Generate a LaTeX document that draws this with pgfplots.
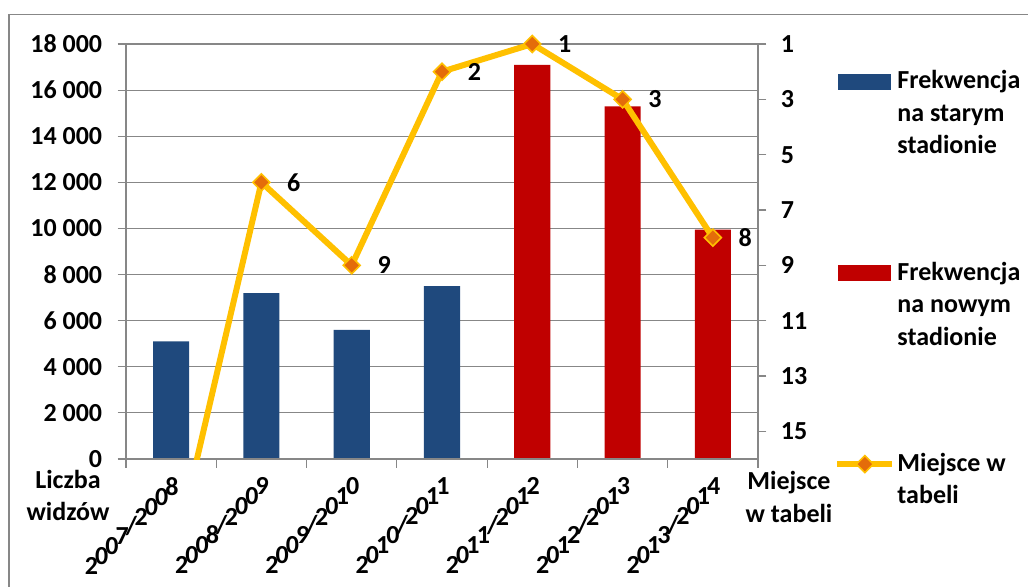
\documentclass[border=0pt]{standalone}
\usepackage{pgfplots}
\pgfplotsset{compat=1.18}
\usepackage{fontspec}
\setmainfont{Carlito}

\definecolor{barblue}{HTML}{1F497D}
\definecolor{barred}{HTML}{C00000}
\definecolor{lineyellow}{HTML}{FFC000}
\definecolor{markorange}{HTML}{E46C0A}
\definecolor{gridgray}{HTML}{878787}

\newcommand{\lbl}{\bfseries\fontsize{13}{16.25}\selectfont}

% season names set along a 45 degree diagonal, one character after another
\newdimen\diagy
\newdimen\diagw
\protected\def\diag#1{\diagy=0pt\diagi#1\relax}
\def\diagi#1{\ifx\relax#1\else\diagchar{#1}\expandafter\diagi\fi}
\def\diagchar#1{\setbox0=\hbox{#1}\diagw=\wd0
  \raisebox{\diagy}{\box0}\kern-0.22\diagw\advance\diagy by 0.76\diagw}

\pgfplotsset{
  chartbase/.style={
    scale only axis, width=316pt, height=207.5pt,
    at={(63pt,63.5pt)}, anchor=south west,
    xmin=-0.5, xmax=6.5,
    tick label style={font=\lbl},
    /pgf/number format/assume math mode=true,
    axis line style={gridgray, line width=0.6pt},
    tick style={gridgray, line width=0.6pt},
    major tick length=4.25pt,
    tick align=outside,
  }
}

\begin{document}
\begin{tikzpicture}
\path[use as bounding box] (0pt,0pt) rectangle (514pt,293pt);
\draw[gridgray, line width=0.6pt] (4.5pt,285.6pt) rectangle (530pt,-10pt);

% attendance (left axis) with the season names
\begin{axis}[chartbase,
  axis y line*=left, axis x line*=bottom,
  ymin=0, ymax=18000, scaled y ticks=false,
  ytick={0,2000,4000,6000,8000,10000,12000,14000,16000,18000},
  yticklabels={0,2 000,4 000,6 000,8 000,10 000,12 000,14 000,16 000,18 000},
  yticklabel style={inner sep=0pt, xshift=-7.5pt},
  ymajorgrids, grid style={gridgray, line width=0.6pt},
  xtick={0,1,2,3,4,5,6},
  xticklabels={\diag{2007/2008},\diag{2008/2009},\diag{2009/2010},\diag{2010/2011},
    \diag{2011/2012},\diag{2012/2013},\diag{2013/2014}},
  xtick style={draw=none},
  x tick label style={anchor=north east, inner sep=0pt, xshift=2.5pt, yshift=-5pt},
  ybar, bar width=0.4, bar shift=0pt,
]
\addplot[fill=barblue, draw=none] coordinates {(0,5100) (1,7200) (2,5600) (3,7500)};
\addplot[fill=barred, draw=none] coordinates {(4,17100) (5,15300) (6,9950)};
\end{axis}

% tick marks between the seasons
\begin{axis}[chartbase,
  axis x line*=bottom, axis y line=none,
  ymin=0, ymax=1,
  xtick={-0.5,0.5,1.5,2.5,3.5,4.5,5.5,6.5}, xticklabels={},
]
\end{axis}

% league position (right axis, reversed)
\begin{axis}[chartbase,
  axis y line*=right, axis x line=none,
  ymin=1, ymax=16, y dir=reverse,
  ytick={1,3,5,7,9,11,13,15},
  yticklabel style={inner sep=0pt, xshift=7pt},
  xtick=\empty,
  legend cell align=left,
  legend style={draw=none, fill=none, inner sep=0pt,
    at={(axis description cs:1.1203,0.9476)}, anchor=north west,
    row sep=82.75pt, column sep=1pt,
    nodes={inner sep=0pt, anchor=base west, font=\lbl}},
]
\addplot[lineyellow, line width=3pt, forget plot]
  coordinates {(0,20) (1,6) (2,9) (3,2) (4,1) (5,3) (6,8)};
\addplot[only marks, mark=square*, mark size=3pt,
  mark options={rotate=45, fill=markorange, draw=lineyellow, line width=0.8pt},
  nodes near coords,
  nodes near coords style={anchor=west, inner sep=0pt, xshift=12.5pt, font=\lbl, text=black},
  forget plot]
  coordinates {(1,6) (2,9) (3,2) (4,1) (5,3) (6,8)};

\addlegendimage{legend image code/.code={\fill[barblue] (0pt,0pt) rectangle (26pt,7.5pt);}}
\addlegendentry{\begin{tabular}[t]{@{}l@{}}Frekwencja\\na starym\\stadionie\end{tabular}}
\addlegendimage{legend image code/.code={\fill[barred] (0pt,0pt) rectangle (26pt,7.5pt);}}
\addlegendentry{\begin{tabular}[t]{@{}l@{}}Frekwencja\\na nowym\\stadionie\end{tabular}}
\addlegendimage{legend image code/.code={%
  \draw[lineyellow, line width=3pt] (-0.5pt,3.65pt) -- (27pt,3.65pt);
  \path[fill=markorange, draw=lineyellow, line width=0.8pt]
    plot[mark=square*, mark size=3pt, mark options={rotate=45}] coordinates {(13.25pt,3.65pt)};}}
\addlegendentry{\begin{tabular}[t]{@{}l@{}}Miejsce w\\tabeli\end{tabular}}
\end{axis}

\node[font=\lbl, align=center] at (34pt,45.25pt) {Liczba\\widzów};
\node[font=\lbl, align=center] at (394.5pt,44.5pt) {Miejsce\\w tabeli};
\end{tikzpicture}
\end{document}
